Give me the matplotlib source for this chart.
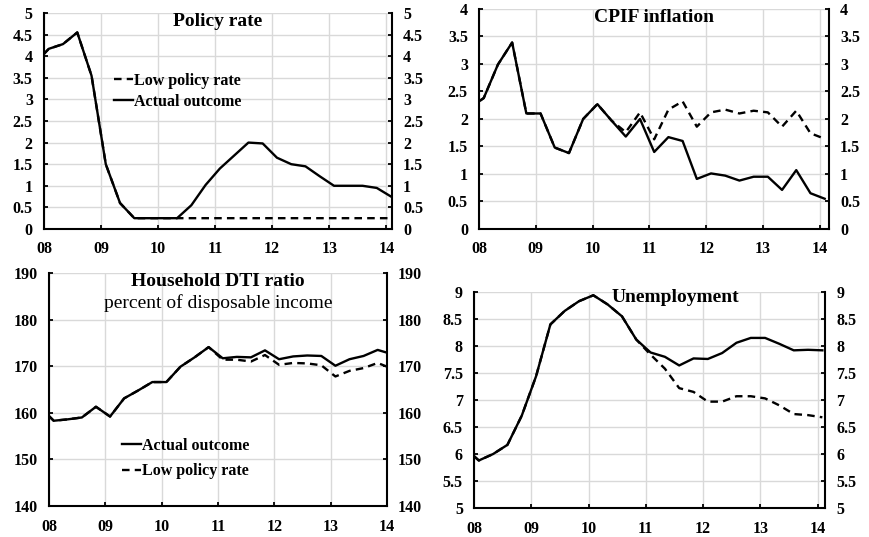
import matplotlib.pyplot as plt
import numpy as np

plt.rcParams['font.family'] = ['Liberation Serif', 'DejaVu Serif']

# quarterly data, 2007Q4 - 2014Q1 (points dated mid-quarter)
quarters = ["2007Q4"] + [f"{y}Q{q}" for y in range(2008, 2014) for q in range(1, 5)] + ["2014Q1"]
year_labels = ["08", "09", "10", "11", "12", "13", "14"]

policy_actual = [3.82, 4.17, 4.28, 4.55, 3.55, 1.5, 0.6, 0.25, 0.25, 0.25, 0.25, 0.55, 1.02,
                 1.4, 1.7, 2.0, 1.98, 1.65, 1.5, 1.45, 1.22, 1.0, 1.0, 1.0, 0.95, 0.75]
policy_low = [3.82, 4.17, 4.28, 4.55, 3.55, 1.5, 0.6, 0.25, 0.25, 0.25, 0.25, 0.25, 0.25,
              0.25, 0.25, 0.25, 0.25, 0.25, 0.25, 0.25, 0.25, 0.25, 0.25, 0.25, 0.25, 0.25]

cpif_actual = [2.2, 2.38, 2.99, 3.39, 2.1, 2.1, 1.48, 1.38, 2.0, 2.27, 1.97, 1.68, 2.0,
               1.4, 1.67, 1.6, 0.91, 1.01, 0.97, 0.88, 0.95, 0.95, 0.71, 1.07, 0.65, 0.55]
cpif_low = [2.2, 2.38, 2.99, 3.39, 2.1, 2.1, 1.48, 1.38, 2.0, 2.27, 1.97, 1.76, 2.12,
            1.63, 2.17, 2.32, 1.86, 2.12, 2.17, 2.1, 2.15, 2.12, 1.86, 2.15, 1.74, 1.64]

dti_actual = [161.3, 158.3, 158.6, 159.0, 161.3, 159.2, 163.1, 164.8, 166.6, 166.6, 169.9, 171.9, 174.1,
              171.7, 172.0, 171.9, 173.4, 171.5, 172.1, 172.3, 172.2, 170.1, 171.5, 172.2, 173.5, 172.6]
dti_low = [161.3, 158.3, 158.6, 159.0, 161.3, 159.2, 163.1, 164.8, 166.6, 166.6, 169.9, 171.9, 174.1,
           171.4, 171.4, 171.0, 172.4, 170.3, 170.7, 170.6, 170.2, 167.8, 169.0, 169.6, 170.7, 169.5]

unemp_actual = [6.12, 5.88, 6.0, 6.17, 6.71, 7.44, 8.4, 8.65, 8.83, 8.94, 8.77, 8.55, 8.12,
                7.88, 7.8, 7.64, 7.77, 7.76, 7.87, 8.06, 8.15, 8.15, 8.04, 7.92, 7.93, 7.92]
unemp_low = [6.12, 5.88, 6.0, 6.17, 6.71, 7.44, 8.4, 8.65, 8.83, 8.94, 8.77, 8.55, 8.12,
             7.84, 7.58, 7.22, 7.15, 6.97, 6.97, 7.07, 7.07, 7.03, 6.9, 6.74, 6.72, 6.68]

x = [int(s[:4]) + (3 * (int(s[-1]) - 1) + 1) / 12 for s in quarters]

fig = plt.figure(figsize=(8.69, 5.37), dpi=100)


def panel(rect, actual, low, ymin, ymax, step, xmax):
    ax = fig.add_axes(rect)
    low_line, = ax.plot(x, low, color='black', lw=1.7, ls=(0, (3.2, 2.2)))
    act_line, = ax.plot(x, actual, color='black', lw=1.7)
    ax.set_xlim(2008, xmax)
    ax.set_ylim(ymin, ymax)
    yt = np.arange(ymin, ymax + step / 2, step)
    ax.set_yticks(yt)
    ax.set_yticklabels([f"{v:g}" for v in yt])
    ax.set_xticks(range(2008, 2015))
    ax.set_xticklabels(year_labels)
    ax.grid(True, color='#d9d9d9', lw=1)
    ax.set_axisbelow(True)
    ax.spines['top'].set_visible(False)
    for s in ['left', 'right', 'bottom']:
        ax.spines[s].set_linewidth(1.5)
    ax.tick_params(axis='y', direction='in', length=3, width=1.3, right=True, labelright=True,
                   labelsize=11.5, pad=8)
    ax.tick_params(axis='x', direction='in', length=3, width=1.3, labelsize=11.5, pad=9)
    for lab in ax.get_xticklabels() + ax.get_yticklabels():
        lab.set_fontweight('bold')
    return ax, act_line, low_line


ax1, a1, l1 = panel([0.0506, 0.5736, 0.4005, 0.4022], policy_actual, policy_low, 0, 5, 0.5, 2014.1)
ax1.text(0.5, 1.0, "Policy rate", transform=ax1.transAxes, ha='center', va='top',
         fontsize=14, fontweight='bold')
ax1.legend([l1, a1], ["Low policy rate", "Actual outcome"], loc='upper left',
           bbox_to_anchor=(0.2, 0.722), frameon=False, handlelength=1.2, handletextpad=0.1,
           borderpad=0, borderaxespad=0, labelspacing=0.3, prop={'weight': 'bold', 'size': 11.5})

ax2, a2, l2 = panel([0.5512, 0.5736, 0.4028, 0.4097], cpif_actual, cpif_low, 0, 4, 0.5, 2014.16)
ax2.text(0.5, 1.0, "CPIF inflation", transform=ax2.transAxes, ha='center', va='top',
         fontsize=14, fontweight='bold')

ax3, a3, l3 = panel([0.0564, 0.0577, 0.389, 0.4339], dti_actual, dti_low, 140, 190, 10, 2014.0)
ax3.text(0.5, 1.0, "Household DTI ratio", transform=ax3.transAxes, ha='center', va='top',
         fontsize=14, fontweight='bold')
ax3.text(0.5, 0.87, "percent of disposable income", transform=ax3.transAxes, ha='center',
         va='center', fontsize=14)
ax3.legend([a3, l3], ["Actual outcome", "Low policy rate"], loc='upper left',
           bbox_to_anchor=(0.215, 0.294), frameon=False, handlelength=1.2, handletextpad=0.1,
           borderpad=0, borderaxespad=0, labelspacing=0.6, prop={'weight': 'bold', 'size': 11.5})

ax4, a4, l4 = panel([0.5455, 0.054, 0.4039, 0.4022], unemp_actual, unemp_low, 5, 9, 0.5, 2014.13)
ax4.text(0.573, 1.015, "Unemployment", transform=ax4.transAxes, ha='center', va='top',
         fontsize=14, fontweight='bold')

fig.savefig("out.png", dpi=100)
